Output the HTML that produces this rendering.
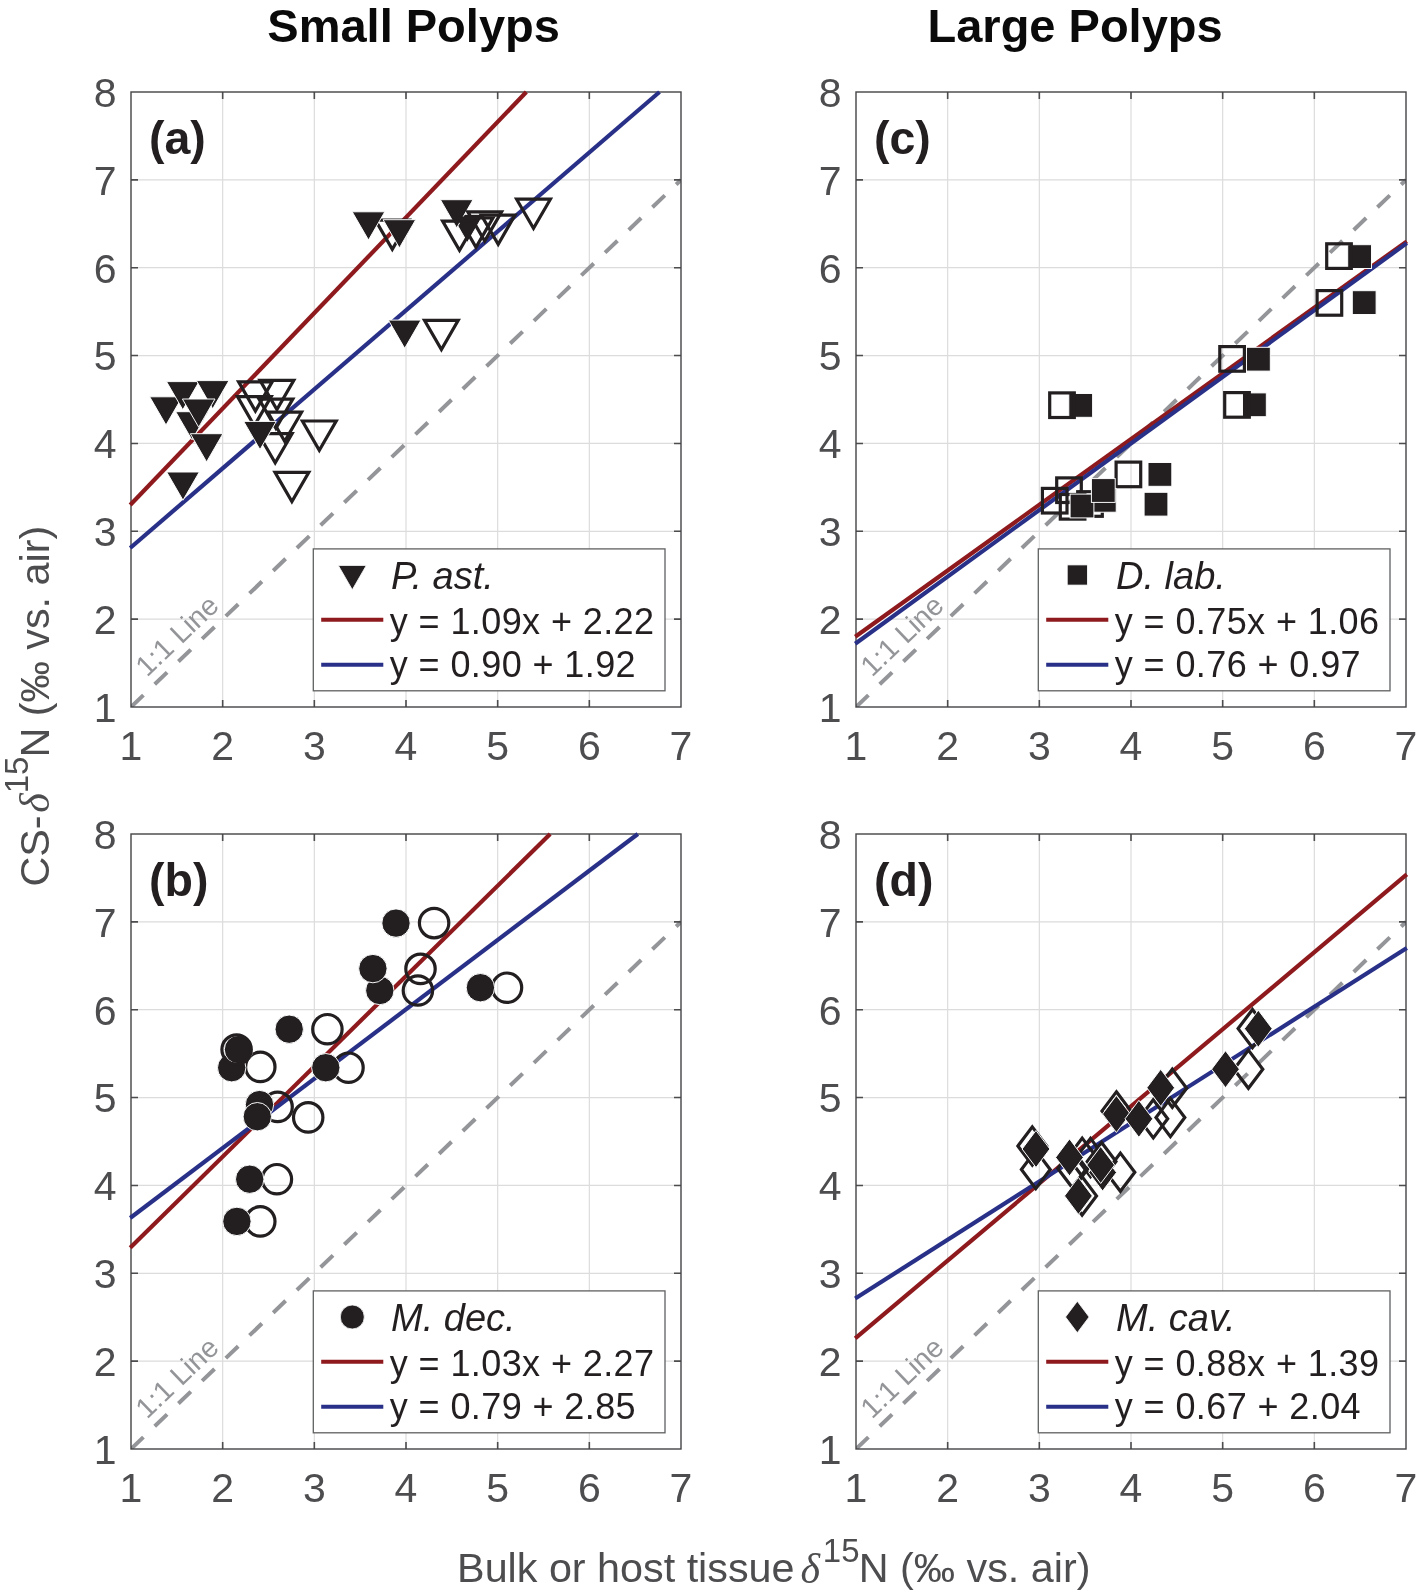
<!DOCTYPE html>
<html><head><meta charset="utf-8"><style>html,body{margin:0;padding:0;background:#fff;}svg{display:block;will-change:transform;}text{font-family:"Liberation Sans",sans-serif;}</style></head>
<body><svg width="1417" height="1592" viewBox="0 0 1417 1592" font-family="Liberation Sans, sans-serif"><clipPath id="clipa"><rect x="131" y="92" width="550" height="615"/></clipPath>
<path d="M222.67,92V707M314.33,92V707M406.00,92V707M497.67,92V707M589.33,92V707M131,619.14H681M131,531.29H681M131,443.43H681M131,355.57H681M131,267.71H681M131,179.86H681" stroke="#dcdcdc" stroke-width="1.2" fill="none"/>
<g clip-path="url(#clipa)">
<line x1="131" y1="707" x2="681.00" y2="179.86" stroke="#939598" stroke-width="4" stroke-dasharray="17.2 15.63"/>
</g>
<path d="M222.67,707v-7M222.67,92v7M314.33,707v-7M314.33,92v7M406.00,707v-7M406.00,92v7M497.67,707v-7M497.67,92v7M589.33,707v-7M589.33,92v7M131,619.14h7M681,619.14h-7M131,531.29h7M681,531.29h-7M131,443.43h7M681,443.43h-7M131,355.57h7M681,355.57h-7M131,267.71h7M681,267.71h-7M131,179.86h7M681,179.86h-7" stroke="#4d4d4f" stroke-width="1.6" fill="none"/>
<rect x="131" y="92" width="550" height="615" fill="none" stroke="#444446" stroke-width="1.4"/>
<line x1="130.20" y1="504.95" x2="526.32" y2="92.00" stroke="#8e1a1e" stroke-width="4.2"/>
<line x1="130.20" y1="548.00" x2="659.49" y2="92.00" stroke="#283087" stroke-width="4.2"/>
<path d="M238.6,381.8H272.2L255.4,411.0Z" fill="none" stroke="#231f20" stroke-width="3.2" stroke-linejoin="miter" stroke-miterlimit="10"/>
<path d="M260.0,380.4H293.8L276.9,409.6Z" fill="none" stroke="#231f20" stroke-width="3.2" stroke-linejoin="miter" stroke-miterlimit="10"/>
<path d="M237.5,396.6H271.2L254.3,425.8Z" fill="none" stroke="#231f20" stroke-width="3.2" stroke-linejoin="miter" stroke-miterlimit="10"/>
<path d="M259.0,399.1H292.8L275.9,428.3Z" fill="none" stroke="#231f20" stroke-width="3.2" stroke-linejoin="miter" stroke-miterlimit="10"/>
<path d="M267.8,412.2H301.6L284.7,441.4Z" fill="none" stroke="#231f20" stroke-width="3.2" stroke-linejoin="miter" stroke-miterlimit="10"/>
<path d="M258.3,433.7H292.1L275.2,462.9Z" fill="none" stroke="#231f20" stroke-width="3.2" stroke-linejoin="miter" stroke-miterlimit="10"/>
<path d="M302.4,421.0H336.2L319.3,450.2Z" fill="none" stroke="#231f20" stroke-width="3.2" stroke-linejoin="miter" stroke-miterlimit="10"/>
<path d="M275.0,472.4H308.8L291.9,501.6Z" fill="none" stroke="#231f20" stroke-width="3.2" stroke-linejoin="miter" stroke-miterlimit="10"/>
<path d="M149.7,396.8H182.3L166.0,425.0Z" fill="#231f20" stroke="#fff" stroke-width="0.967" stroke-linejoin="miter" stroke-miterlimit="10"/>
<path d="M166.5,381.6H199.1L182.8,409.8Z" fill="#231f20" stroke="#fff" stroke-width="0.967" stroke-linejoin="miter" stroke-miterlimit="10"/>
<path d="M196.4,380.6H229.0L212.7,408.8Z" fill="#231f20" stroke="#fff" stroke-width="0.967" stroke-linejoin="miter" stroke-miterlimit="10"/>
<path d="M175.7,411.7H208.3L192.0,439.9Z" fill="#231f20" stroke="#fff" stroke-width="0.967" stroke-linejoin="miter" stroke-miterlimit="10"/>
<path d="M182.4,399.0H215.0L198.7,427.2Z" fill="#231f20" stroke="#fff" stroke-width="0.967" stroke-linejoin="miter" stroke-miterlimit="10"/>
<path d="M190.3,433.7H222.9L206.6,461.9Z" fill="#231f20" stroke="#fff" stroke-width="0.967" stroke-linejoin="miter" stroke-miterlimit="10"/>
<path d="M166.7,472.0H199.3L183.0,500.2Z" fill="#231f20" stroke="#fff" stroke-width="0.967" stroke-linejoin="miter" stroke-miterlimit="10"/>
<path d="M243.7,421.4H276.3L260.0,449.6Z" fill="#231f20" stroke="#fff" stroke-width="0.967" stroke-linejoin="miter" stroke-miterlimit="10"/>
<path d="M375.4,220.1H409.2L392.3,249.3Z" fill="none" stroke="#231f20" stroke-width="3.2" stroke-linejoin="miter" stroke-miterlimit="10"/>
<path d="M352.2,211.8H384.8L368.5,240.0Z" fill="#231f20" stroke="#fff" stroke-width="0.967" stroke-linejoin="miter" stroke-miterlimit="10"/>
<path d="M383.1,219.7H415.7L399.4,247.9Z" fill="#231f20" stroke="#fff" stroke-width="0.967" stroke-linejoin="miter" stroke-miterlimit="10"/>
<path d="M451.1,214.3H483.7L467.4,242.5Z" fill="#231f20" stroke="#fff" stroke-width="0.967" stroke-linejoin="miter" stroke-miterlimit="10"/>
<path d="M440.4,199.7H473.0L456.7,227.9Z" fill="#231f20" stroke="#fff" stroke-width="0.967" stroke-linejoin="miter" stroke-miterlimit="10"/>
<path d="M442.6,221.1H476.4L459.5,250.3Z" fill="none" stroke="#231f20" stroke-width="3.2" stroke-linejoin="miter" stroke-miterlimit="10"/>
<path d="M459.1,218.0H492.9L476.0,247.2Z" fill="none" stroke="#231f20" stroke-width="3.2" stroke-linejoin="miter" stroke-miterlimit="10"/>
<path d="M467.8,211.9H501.6L484.7,241.1Z" fill="none" stroke="#231f20" stroke-width="3.2" stroke-linejoin="miter" stroke-miterlimit="10"/>
<path d="M481.3,215.1H515.0L498.2,244.3Z" fill="none" stroke="#231f20" stroke-width="3.2" stroke-linejoin="miter" stroke-miterlimit="10"/>
<path d="M516.6,199.2H550.4L533.5,228.4Z" fill="none" stroke="#231f20" stroke-width="3.2" stroke-linejoin="miter" stroke-miterlimit="10"/>
<path d="M388.4,320.1H421.0L404.7,348.3Z" fill="#231f20" stroke="#fff" stroke-width="0.967" stroke-linejoin="miter" stroke-miterlimit="10"/>
<path d="M424.5,320.4H458.2L441.4,349.6Z" fill="none" stroke="#231f20" stroke-width="3.2" stroke-linejoin="miter" stroke-miterlimit="10"/>
<text transform="translate(147.1,677.7) rotate(-43.78)" font-size="28.5" fill="#939598">1:1 Line</text>
<text x="149" y="153.65" font-size="46.5" font-weight="bold" fill="#231f20">(a)</text>
<rect x="313.3" y="548.9" width="351.7" height="141.9" fill="#fff" stroke="#5f6062" stroke-width="1.3"/>
<path d="M338.3,565.4H366.3L352.3,589.7Z" fill="#231f20" stroke="#fff" stroke-width="0.8316199999999999" stroke-linejoin="miter" stroke-miterlimit="10"/>
<text x="391" y="589.3" font-size="38" font-style="italic" fill="#231f20">P. ast.</text>
<line x1="321.2" y1="619.8" x2="383.3" y2="619.8" stroke="#8e1a1e" stroke-width="4"/>
<line x1="321.2" y1="664.7" x2="383.3" y2="664.7" stroke="#283087" stroke-width="4"/>
<text x="389.8" y="634.4" font-size="36" letter-spacing="0.4" fill="#231f20">y = 1.09x + 2.22</text>
<text x="389.8" y="677.4" font-size="36" letter-spacing="0.4" fill="#231f20">y = 0.90 + 1.92</text>
<text x="131.0" y="759.7" font-size="41" text-anchor="middle" fill="#4d4d4f">1</text>
<text x="222.7" y="759.7" font-size="41" text-anchor="middle" fill="#4d4d4f">2</text>
<text x="314.3" y="759.7" font-size="41" text-anchor="middle" fill="#4d4d4f">3</text>
<text x="406.0" y="759.7" font-size="41" text-anchor="middle" fill="#4d4d4f">4</text>
<text x="497.7" y="759.7" font-size="41" text-anchor="middle" fill="#4d4d4f">5</text>
<text x="589.3" y="759.7" font-size="41" text-anchor="middle" fill="#4d4d4f">6</text>
<text x="681.0" y="759.7" font-size="41" text-anchor="middle" fill="#4d4d4f">7</text>
<text x="116.5" y="721.8" font-size="41" text-anchor="end" fill="#4d4d4f">1</text>
<text x="116.5" y="633.9" font-size="41" text-anchor="end" fill="#4d4d4f">2</text>
<text x="116.5" y="546.1" font-size="41" text-anchor="end" fill="#4d4d4f">3</text>
<text x="116.5" y="458.2" font-size="41" text-anchor="end" fill="#4d4d4f">4</text>
<text x="116.5" y="370.4" font-size="41" text-anchor="end" fill="#4d4d4f">5</text>
<text x="116.5" y="282.5" font-size="41" text-anchor="end" fill="#4d4d4f">6</text>
<text x="116.5" y="194.7" font-size="41" text-anchor="end" fill="#4d4d4f">7</text>
<text x="116.5" y="106.8" font-size="41" text-anchor="end" fill="#4d4d4f">8</text>
<clipPath id="clipb"><rect x="131" y="834" width="550" height="615"/></clipPath>
<path d="M222.67,834V1449M314.33,834V1449M406.00,834V1449M497.67,834V1449M589.33,834V1449M131,1361.14H681M131,1273.29H681M131,1185.43H681M131,1097.57H681M131,1009.71H681M131,921.86H681" stroke="#dcdcdc" stroke-width="1.2" fill="none"/>
<g clip-path="url(#clipb)">
<line x1="131" y1="1449" x2="681.00" y2="921.86" stroke="#939598" stroke-width="4" stroke-dasharray="17.2 15.63"/>
</g>
<path d="M222.67,1449v-7M222.67,834v7M314.33,1449v-7M314.33,834v7M406.00,1449v-7M406.00,834v7M497.67,1449v-7M497.67,834v7M589.33,1449v-7M589.33,834v7M131,1361.14h7M681,1361.14h-7M131,1273.29h7M681,1273.29h-7M131,1185.43h7M681,1185.43h-7M131,1097.57h7M681,1097.57h-7M131,1009.71h7M681,1009.71h-7M131,921.86h7M681,921.86h-7" stroke="#4d4d4f" stroke-width="1.6" fill="none"/>
<rect x="131" y="834" width="550" height="615" fill="none" stroke="#444446" stroke-width="1.4"/>
<line x1="130.20" y1="1247.83" x2="550.18" y2="834.00" stroke="#8e1a1e" stroke-width="4.2"/>
<line x1="130.20" y1="1217.96" x2="637.81" y2="834.00" stroke="#283087" stroke-width="4.2"/>
<circle cx="327.4" cy="1029.2" r="14.7" fill="none" stroke="#231f20" stroke-width="3.2"/>
<circle cx="260.3" cy="1066.9" r="14.7" fill="none" stroke="#231f20" stroke-width="3.2"/>
<circle cx="348.5" cy="1067.7" r="14.7" fill="none" stroke="#231f20" stroke-width="3.2"/>
<circle cx="277.6" cy="1106.9" r="14.7" fill="none" stroke="#231f20" stroke-width="3.2"/>
<circle cx="308.2" cy="1117.4" r="14.7" fill="none" stroke="#231f20" stroke-width="3.2"/>
<circle cx="276.9" cy="1179.2" r="14.7" fill="none" stroke="#231f20" stroke-width="3.2"/>
<circle cx="260.3" cy="1221.4" r="14.7" fill="none" stroke="#231f20" stroke-width="3.2"/>
<circle cx="434.1" cy="923.1" r="14.7" fill="none" stroke="#231f20" stroke-width="3.2"/>
<circle cx="420.5" cy="968.9" r="14.7" fill="none" stroke="#231f20" stroke-width="3.2"/>
<circle cx="417.9" cy="990.5" r="14.7" fill="none" stroke="#231f20" stroke-width="3.2"/>
<circle cx="507.0" cy="987.7" r="14.7" fill="none" stroke="#231f20" stroke-width="3.2"/>
<circle cx="289.2" cy="1029.2" r="14.2" fill="#231f20" stroke="#fff" stroke-width="0.967"/>
<circle cx="231.7" cy="1067.7" r="14.2" fill="#231f20" stroke="#fff" stroke-width="0.967"/>
<circle cx="238.5" cy="1049.6" r="14.2" fill="#231f20" stroke="#fff" stroke-width="0.967"/>
<circle cx="325.8" cy="1067.7" r="14.2" fill="#231f20" stroke="#fff" stroke-width="0.967"/>
<circle cx="259.5" cy="1104.6" r="14.2" fill="#231f20" stroke="#fff" stroke-width="0.967"/>
<circle cx="257.3" cy="1116.7" r="14.2" fill="#231f20" stroke="#fff" stroke-width="0.967"/>
<circle cx="249.7" cy="1179.2" r="14.2" fill="#231f20" stroke="#fff" stroke-width="0.967"/>
<circle cx="236.9" cy="1221.4" r="14.2" fill="#231f20" stroke="#fff" stroke-width="0.967"/>
<circle cx="396.0" cy="923.1" r="14.2" fill="#231f20" stroke="#fff" stroke-width="0.967"/>
<circle cx="379.8" cy="990.5" r="14.2" fill="#231f20" stroke="#fff" stroke-width="0.967"/>
<circle cx="372.9" cy="968.6" r="14.2" fill="#231f20" stroke="#fff" stroke-width="0.967"/>
<circle cx="480.4" cy="987.7" r="14.2" fill="#231f20" stroke="#fff" stroke-width="0.967"/>
<circle cx="236.6" cy="1049.5" r="14.7" fill="none" stroke="#231f20" stroke-width="3.2"/>
<text transform="translate(147.1,1419.7) rotate(-43.78)" font-size="28.5" fill="#939598">1:1 Line</text>
<text x="149" y="895.65" font-size="46.5" font-weight="bold" fill="#231f20">(b)</text>
<rect x="313.3" y="1290.9" width="351.7" height="141.9" fill="#fff" stroke="#5f6062" stroke-width="1.3"/>
<circle cx="352.3" cy="1317.0" r="12.0" fill="#231f20" stroke="#fff" stroke-width="0.82195"/>
<text x="391" y="1331.3" font-size="38" font-style="italic" fill="#231f20">M. dec.</text>
<line x1="321.2" y1="1361.8" x2="383.3" y2="1361.8" stroke="#8e1a1e" stroke-width="4"/>
<line x1="321.2" y1="1406.7" x2="383.3" y2="1406.7" stroke="#283087" stroke-width="4"/>
<text x="389.8" y="1376.4" font-size="36" letter-spacing="0.4" fill="#231f20">y = 1.03x + 2.27</text>
<text x="389.8" y="1419.4" font-size="36" letter-spacing="0.4" fill="#231f20">y = 0.79 + 2.85</text>
<text x="131.0" y="1501.7" font-size="41" text-anchor="middle" fill="#4d4d4f">1</text>
<text x="222.7" y="1501.7" font-size="41" text-anchor="middle" fill="#4d4d4f">2</text>
<text x="314.3" y="1501.7" font-size="41" text-anchor="middle" fill="#4d4d4f">3</text>
<text x="406.0" y="1501.7" font-size="41" text-anchor="middle" fill="#4d4d4f">4</text>
<text x="497.7" y="1501.7" font-size="41" text-anchor="middle" fill="#4d4d4f">5</text>
<text x="589.3" y="1501.7" font-size="41" text-anchor="middle" fill="#4d4d4f">6</text>
<text x="681.0" y="1501.7" font-size="41" text-anchor="middle" fill="#4d4d4f">7</text>
<text x="116.5" y="1463.8" font-size="41" text-anchor="end" fill="#4d4d4f">1</text>
<text x="116.5" y="1375.9" font-size="41" text-anchor="end" fill="#4d4d4f">2</text>
<text x="116.5" y="1288.1" font-size="41" text-anchor="end" fill="#4d4d4f">3</text>
<text x="116.5" y="1200.2" font-size="41" text-anchor="end" fill="#4d4d4f">4</text>
<text x="116.5" y="1112.4" font-size="41" text-anchor="end" fill="#4d4d4f">5</text>
<text x="116.5" y="1024.5" font-size="41" text-anchor="end" fill="#4d4d4f">6</text>
<text x="116.5" y="936.7" font-size="41" text-anchor="end" fill="#4d4d4f">7</text>
<text x="116.5" y="848.8" font-size="41" text-anchor="end" fill="#4d4d4f">8</text>
<clipPath id="clipc"><rect x="856" y="92" width="550" height="615"/></clipPath>
<path d="M947.67,92V707M1039.33,92V707M1131.00,92V707M1222.67,92V707M1314.33,92V707M856,619.14H1406M856,531.29H1406M856,443.43H1406M856,355.57H1406M856,267.71H1406M856,179.86H1406" stroke="#dcdcdc" stroke-width="1.2" fill="none"/>
<g clip-path="url(#clipc)">
<line x1="856" y1="707" x2="1406.00" y2="179.86" stroke="#939598" stroke-width="4" stroke-dasharray="17.2 15.63"/>
</g>
<path d="M947.67,707v-7M947.67,92v7M1039.33,707v-7M1039.33,92v7M1131.00,707v-7M1131.00,92v7M1222.67,707v-7M1222.67,92v7M1314.33,707v-7M1314.33,92v7M856,619.14h7M1406,619.14h-7M856,531.29h7M1406,531.29h-7M856,443.43h7M1406,443.43h-7M856,355.57h7M1406,355.57h-7M856,267.71h7M1406,267.71h-7M856,179.86h7M1406,179.86h-7" stroke="#4d4d4f" stroke-width="1.6" fill="none"/>
<rect x="856" y="92" width="550" height="615" fill="none" stroke="#444446" stroke-width="1.4"/>
<line x1="855.20" y1="636.74" x2="1406.80" y2="241.38" stroke="#8e1a1e" stroke-width="4.2"/>
<line x1="855.20" y1="643.76" x2="1406.80" y2="243.14" stroke="#283087" stroke-width="4.2"/>
<rect x="1068.8" y="393.5" width="23.8" height="23.8" fill="#231f20" stroke="#fff" stroke-width="0.967"/>
<rect x="1148.0" y="462.5" width="23.8" height="23.8" fill="#231f20" stroke="#fff" stroke-width="0.967"/>
<rect x="1144.1" y="492.3" width="23.8" height="23.8" fill="#231f20" stroke="#fff" stroke-width="0.967"/>
<rect x="1347.7" y="244.7" width="23.8" height="23.8" fill="#231f20" stroke="#fff" stroke-width="0.967"/>
<rect x="1352.3" y="290.7" width="23.8" height="23.8" fill="#231f20" stroke="#fff" stroke-width="0.967"/>
<rect x="1246.5" y="347.3" width="23.8" height="23.8" fill="#231f20" stroke="#fff" stroke-width="0.967"/>
<rect x="1242.5" y="392.9" width="23.8" height="23.8" fill="#231f20" stroke="#fff" stroke-width="0.967"/>
<rect x="1049.7" y="392.9" width="24.6" height="24.6" fill="none" stroke="#231f20" stroke-width="3.2"/>
<rect x="1116.1" y="462.1" width="24.6" height="24.6" fill="none" stroke="#231f20" stroke-width="3.2"/>
<rect x="1042.4" y="488.4" width="24.6" height="24.6" fill="none" stroke="#231f20" stroke-width="3.2"/>
<rect x="1056.7" y="477.9" width="24.6" height="24.6" fill="none" stroke="#231f20" stroke-width="3.2"/>
<rect x="1060.3" y="494.5" width="24.6" height="24.6" fill="none" stroke="#231f20" stroke-width="3.2"/>
<rect x="1077.7" y="491.7" width="24.6" height="24.6" fill="none" stroke="#231f20" stroke-width="3.2"/>
<rect x="1326.7" y="243.8" width="24.6" height="24.6" fill="none" stroke="#231f20" stroke-width="3.2"/>
<rect x="1317.1" y="290.6" width="24.6" height="24.6" fill="none" stroke="#231f20" stroke-width="3.2"/>
<rect x="1219.8" y="346.6" width="24.6" height="24.6" fill="none" stroke="#231f20" stroke-width="3.2"/>
<rect x="1224.7" y="392.6" width="24.6" height="24.6" fill="none" stroke="#231f20" stroke-width="3.2"/>
<rect x="1092.4" y="488.4" width="23.8" height="23.8" fill="#231f20" stroke="#fff" stroke-width="0.967"/>
<rect x="1070.1" y="494.1" width="23.8" height="23.8" fill="#231f20" stroke="#fff" stroke-width="0.967"/>
<rect x="1091.4" y="478.6" width="23.8" height="23.8" fill="#231f20" stroke="#fff" stroke-width="0.967"/>
<text transform="translate(872.1,677.7) rotate(-43.78)" font-size="28.5" fill="#939598">1:1 Line</text>
<text x="874" y="153.65" font-size="46.5" font-weight="bold" fill="#231f20">(c)</text>
<rect x="1038.3" y="548.9" width="351.7" height="141.9" fill="#fff" stroke="#5f6062" stroke-width="1.3"/>
<rect x="1067.2" y="564.9" width="20.2" height="20.2" fill="#231f20" stroke="#fff" stroke-width="0.82195"/>
<text x="1116" y="589.3" font-size="38" font-style="italic" fill="#231f20">D. lab.</text>
<line x1="1046.2" y1="619.8" x2="1108.3" y2="619.8" stroke="#8e1a1e" stroke-width="4"/>
<line x1="1046.2" y1="664.7" x2="1108.3" y2="664.7" stroke="#283087" stroke-width="4"/>
<text x="1114.8" y="634.4" font-size="36" letter-spacing="0.4" fill="#231f20">y = 0.75x + 1.06</text>
<text x="1114.8" y="677.4" font-size="36" letter-spacing="0.4" fill="#231f20">y = 0.76 + 0.97</text>
<text x="856.0" y="759.7" font-size="41" text-anchor="middle" fill="#4d4d4f">1</text>
<text x="947.7" y="759.7" font-size="41" text-anchor="middle" fill="#4d4d4f">2</text>
<text x="1039.3" y="759.7" font-size="41" text-anchor="middle" fill="#4d4d4f">3</text>
<text x="1131.0" y="759.7" font-size="41" text-anchor="middle" fill="#4d4d4f">4</text>
<text x="1222.7" y="759.7" font-size="41" text-anchor="middle" fill="#4d4d4f">5</text>
<text x="1314.3" y="759.7" font-size="41" text-anchor="middle" fill="#4d4d4f">6</text>
<text x="1406.0" y="759.7" font-size="41" text-anchor="middle" fill="#4d4d4f">7</text>
<text x="841.5" y="721.8" font-size="41" text-anchor="end" fill="#4d4d4f">1</text>
<text x="841.5" y="633.9" font-size="41" text-anchor="end" fill="#4d4d4f">2</text>
<text x="841.5" y="546.1" font-size="41" text-anchor="end" fill="#4d4d4f">3</text>
<text x="841.5" y="458.2" font-size="41" text-anchor="end" fill="#4d4d4f">4</text>
<text x="841.5" y="370.4" font-size="41" text-anchor="end" fill="#4d4d4f">5</text>
<text x="841.5" y="282.5" font-size="41" text-anchor="end" fill="#4d4d4f">6</text>
<text x="841.5" y="194.7" font-size="41" text-anchor="end" fill="#4d4d4f">7</text>
<text x="841.5" y="106.8" font-size="41" text-anchor="end" fill="#4d4d4f">8</text>
<clipPath id="clipd"><rect x="856" y="834" width="550" height="615"/></clipPath>
<path d="M947.67,834V1449M1039.33,834V1449M1131.00,834V1449M1222.67,834V1449M1314.33,834V1449M856,1361.14H1406M856,1273.29H1406M856,1185.43H1406M856,1097.57H1406M856,1009.71H1406M856,921.86H1406" stroke="#dcdcdc" stroke-width="1.2" fill="none"/>
<g clip-path="url(#clipd)">
<line x1="856" y1="1449" x2="1406.00" y2="921.86" stroke="#939598" stroke-width="4" stroke-dasharray="17.2 15.63"/>
</g>
<path d="M947.67,1449v-7M947.67,834v7M1039.33,1449v-7M1039.33,834v7M1131.00,1449v-7M1131.00,834v7M1222.67,1449v-7M1222.67,834v7M1314.33,1449v-7M1314.33,834v7M856,1361.14h7M1406,1361.14h-7M856,1273.29h7M1406,1273.29h-7M856,1185.43h7M1406,1185.43h-7M856,1097.57h7M1406,1097.57h-7M856,1009.71h7M1406,1009.71h-7M856,921.86h7M1406,921.86h-7" stroke="#4d4d4f" stroke-width="1.6" fill="none"/>
<rect x="856" y="834" width="550" height="615" fill="none" stroke="#444446" stroke-width="1.4"/>
<line x1="855.20" y1="1338.32" x2="1406.80" y2="874.44" stroke="#8e1a1e" stroke-width="4.2"/>
<line x1="855.20" y1="1298.50" x2="1406.80" y2="947.95" stroke="#283087" stroke-width="4.2"/>
<path d="M1101.6,1142.5L1116.0,1161.6L1101.6,1180.7L1087.2,1161.6Z" fill="none" stroke="#231f20" stroke-width="3.2" stroke-miterlimit="10"/>
<path d="M1032.3,1126.9L1046.7,1146.0L1032.3,1165.1L1017.9,1146.0Z" fill="none" stroke="#231f20" stroke-width="3.2" stroke-miterlimit="10"/>
<path d="M1035.8,1150.4L1050.2,1169.5L1035.8,1188.6L1021.4,1169.5Z" fill="none" stroke="#231f20" stroke-width="3.2" stroke-miterlimit="10"/>
<path d="M1072.2,1149.3L1086.6,1168.4L1072.2,1187.5L1057.8,1168.4Z" fill="none" stroke="#231f20" stroke-width="3.2" stroke-miterlimit="10"/>
<path d="M1082.1,1176.8L1096.5,1195.9L1082.1,1215.0L1067.7,1195.9Z" fill="none" stroke="#231f20" stroke-width="3.2" stroke-miterlimit="10"/>
<path d="M1082.2,1138.1L1096.6,1157.2L1082.2,1176.3L1067.8,1157.2Z" fill="none" stroke="#231f20" stroke-width="3.2" stroke-miterlimit="10"/>
<path d="M1090.5,1138.4L1104.9,1157.5L1090.5,1176.6L1076.1,1157.5Z" fill="none" stroke="#231f20" stroke-width="3.2" stroke-miterlimit="10"/>
<path d="M1120.4,1153.1L1134.8,1172.2L1120.4,1191.3L1106.0,1172.2Z" fill="none" stroke="#231f20" stroke-width="3.2" stroke-miterlimit="10"/>
<path d="M1116.4,1091.8L1130.8,1110.9L1116.4,1130.0L1102.0,1110.9Z" fill="none" stroke="#231f20" stroke-width="3.2" stroke-miterlimit="10"/>
<path d="M1153.3,1099.7L1167.7,1118.8L1153.3,1137.9L1138.9,1118.8Z" fill="none" stroke="#231f20" stroke-width="3.2" stroke-miterlimit="10"/>
<path d="M1172.3,1069.1L1186.7,1088.2L1172.3,1107.3L1157.9,1088.2Z" fill="none" stroke="#231f20" stroke-width="3.2" stroke-miterlimit="10"/>
<path d="M1170.4,1098.4L1184.8,1117.5L1170.4,1136.6L1156.0,1117.5Z" fill="none" stroke="#231f20" stroke-width="3.2" stroke-miterlimit="10"/>
<path d="M1248.4,1050.1L1262.8,1069.2L1248.4,1088.3L1234.0,1069.2Z" fill="none" stroke="#231f20" stroke-width="3.2" stroke-miterlimit="10"/>
<path d="M1252.5,1009.5L1266.9,1028.6L1252.5,1047.7L1238.1,1028.6Z" fill="none" stroke="#231f20" stroke-width="3.2" stroke-miterlimit="10"/>
<path d="M1036.0,1130.5L1049.9,1149.0L1036.0,1167.5L1022.1,1149.0Z" fill="#231f20" stroke="#fff" stroke-width="0.967" stroke-miterlimit="10"/>
<path d="M1069.5,1138.9L1083.4,1157.4L1069.5,1175.9L1055.6,1157.4Z" fill="#231f20" stroke="#fff" stroke-width="0.967" stroke-miterlimit="10"/>
<path d="M1078.4,1177.4L1092.3,1195.9L1078.4,1214.4L1064.5,1195.9Z" fill="#231f20" stroke="#fff" stroke-width="0.967" stroke-miterlimit="10"/>
<path d="M1102.6,1154.0L1116.5,1172.5L1102.6,1191.0L1088.7,1172.5Z" fill="#231f20" stroke="#fff" stroke-width="0.967" stroke-miterlimit="10"/>
<path d="M1100.7,1146.5L1114.6,1165.0L1100.7,1183.5L1086.8,1165.0Z" fill="#231f20" stroke="#fff" stroke-width="0.967" stroke-miterlimit="10"/>
<path d="M1116.4,1095.5L1130.3,1114.0L1116.4,1132.5L1102.5,1114.0Z" fill="#231f20" stroke="#fff" stroke-width="0.967" stroke-miterlimit="10"/>
<path d="M1138.9,1100.3L1152.8,1118.8L1138.9,1137.3L1125.0,1118.8Z" fill="#231f20" stroke="#fff" stroke-width="0.967" stroke-miterlimit="10"/>
<path d="M1160.7,1069.3L1174.6,1087.8L1160.7,1106.3L1146.8,1087.8Z" fill="#231f20" stroke="#fff" stroke-width="0.967" stroke-miterlimit="10"/>
<path d="M1225.5,1050.7L1239.4,1069.2L1225.5,1087.7L1211.6,1069.2Z" fill="#231f20" stroke="#fff" stroke-width="0.967" stroke-miterlimit="10"/>
<path d="M1258.3,1010.2L1272.2,1028.7L1258.3,1047.2L1244.4,1028.7Z" fill="#231f20" stroke="#fff" stroke-width="0.967" stroke-miterlimit="10"/>
<text transform="translate(872.1,1419.7) rotate(-43.78)" font-size="28.5" fill="#939598">1:1 Line</text>
<text x="874" y="895.65" font-size="46.5" font-weight="bold" fill="#231f20">(d)</text>
<rect x="1038.3" y="1290.9" width="351.7" height="141.9" fill="#fff" stroke="#5f6062" stroke-width="1.3"/>
<path d="M1077.3,1301.3L1089.1,1317.0L1077.3,1332.7L1065.5,1317.0Z" fill="#231f20" stroke="#fff" stroke-width="0.82195" stroke-miterlimit="10"/>
<text x="1116" y="1331.3" font-size="38" font-style="italic" fill="#231f20">M. cav.</text>
<line x1="1046.2" y1="1361.8" x2="1108.3" y2="1361.8" stroke="#8e1a1e" stroke-width="4"/>
<line x1="1046.2" y1="1406.7" x2="1108.3" y2="1406.7" stroke="#283087" stroke-width="4"/>
<text x="1114.8" y="1376.4" font-size="36" letter-spacing="0.4" fill="#231f20">y = 0.88x + 1.39</text>
<text x="1114.8" y="1419.4" font-size="36" letter-spacing="0.4" fill="#231f20">y = 0.67 + 2.04</text>
<text x="856.0" y="1501.7" font-size="41" text-anchor="middle" fill="#4d4d4f">1</text>
<text x="947.7" y="1501.7" font-size="41" text-anchor="middle" fill="#4d4d4f">2</text>
<text x="1039.3" y="1501.7" font-size="41" text-anchor="middle" fill="#4d4d4f">3</text>
<text x="1131.0" y="1501.7" font-size="41" text-anchor="middle" fill="#4d4d4f">4</text>
<text x="1222.7" y="1501.7" font-size="41" text-anchor="middle" fill="#4d4d4f">5</text>
<text x="1314.3" y="1501.7" font-size="41" text-anchor="middle" fill="#4d4d4f">6</text>
<text x="1406.0" y="1501.7" font-size="41" text-anchor="middle" fill="#4d4d4f">7</text>
<text x="841.5" y="1463.8" font-size="41" text-anchor="end" fill="#4d4d4f">1</text>
<text x="841.5" y="1375.9" font-size="41" text-anchor="end" fill="#4d4d4f">2</text>
<text x="841.5" y="1288.1" font-size="41" text-anchor="end" fill="#4d4d4f">3</text>
<text x="841.5" y="1200.2" font-size="41" text-anchor="end" fill="#4d4d4f">4</text>
<text x="841.5" y="1112.4" font-size="41" text-anchor="end" fill="#4d4d4f">5</text>
<text x="841.5" y="1024.5" font-size="41" text-anchor="end" fill="#4d4d4f">6</text>
<text x="841.5" y="936.7" font-size="41" text-anchor="end" fill="#4d4d4f">7</text>
<text x="841.5" y="848.8" font-size="41" text-anchor="end" fill="#4d4d4f">8</text>
<text x="413.6" y="41.7" font-size="47" font-weight="bold" text-anchor="middle" fill="#0a0a0a">Small Polyps</text>
<text x="1075.1" y="41.7" font-size="47" font-weight="bold" text-anchor="middle" fill="#0a0a0a">Large Polyps</text>
<text font-size="41.3" fill="#4d4d4f"><tspan x="457.1" y="1582.4">Bulk or host tissue</tspan><tspan x="800.4" y="1582.5" font-family="Liberation Serif" font-style="italic" font-size="42">δ</tspan><tspan x="822.8" y="1562.2" font-size="33">15</tspan><tspan x="858.7" y="1582.1">N (‰ vs. air)</tspan></text>
<text transform="translate(49.1,886.6) rotate(-90)" font-size="41.3" fill="#4d4d4f"><tspan x="0" y="0">CS-</tspan><tspan x="73.8" y="0" font-family="Liberation Serif" font-style="italic" font-size="42">δ</tspan><tspan x="93.3" y="-21.2" font-size="33">15</tspan><tspan x="129.1" y="0">N (‰ vs. air)</tspan></text></svg></body></html>
